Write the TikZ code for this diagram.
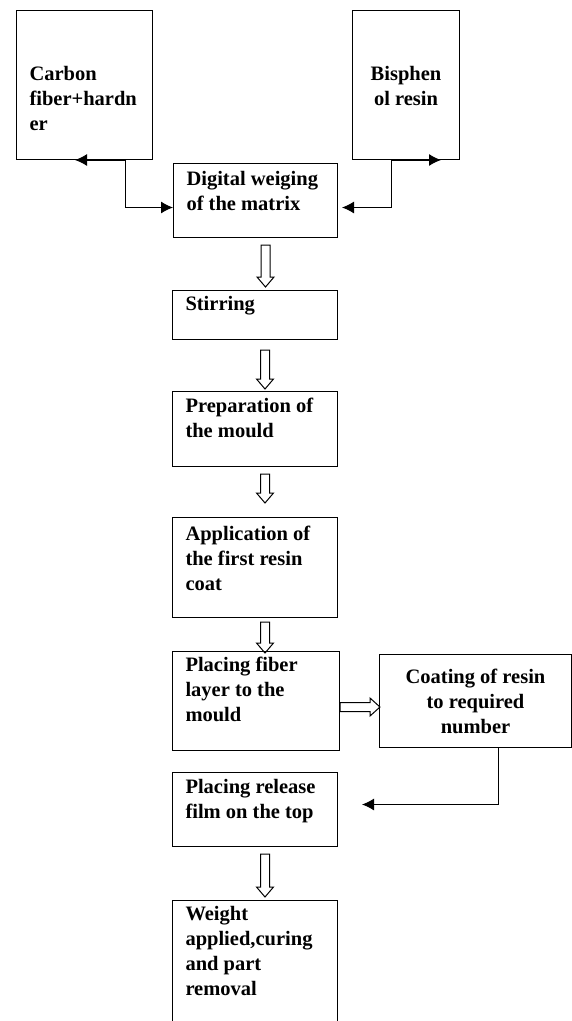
\documentclass[tikz,border=0pt]{standalone}
\usepackage{fontspec}
\setmainfont{Liberation Serif}
\usetikzlibrary{arrows.meta,calc}

\newcommand{\lefttext}[4]{\parbox[t][#2pt][t]{#1pt}{\raggedright\leftskip=13pt\rule{0pt}{#3pt}#4}}
\newcommand{\midtext}[4]{\parbox[t][#2pt][t]{#1pt}{\centering\rule{0pt}{#3pt}#4}}

\begin{document}
\begin{tikzpicture}[x=1pt, y=-1pt, line width=1pt,
    every node/.style={draw, inner sep=0pt, anchor=north west, font=\bfseries\fontsize{20.5}{25}\selectfont},
    hollowdown/.style={to path={let \p1=(\tikztostart), \p2=(\tikztotarget) in
        (\x1-4.5pt,\y1) -- (\x1-4.5pt,\y2+10pt) -- (\x1-8.5pt,\y2+10pt) -- (\x1,\y2)
        -- (\x1+8.5pt,\y2+10pt) -- (\x1+4.5pt,\y2+10pt) -- (\x1+4.5pt,\y1) -- cycle}},
    hollowright/.style={to path={let \p1=(\tikztostart), \p2=(\tikztotarget) in
        (\x1,\y1+4.5pt) -- (\x2-10pt,\y1+4.5pt) -- (\x2-10pt,\y1+9pt) -- (\x2,\y1)
        -- (\x2-10pt,\y1-9pt) -- (\x2-10pt,\y1-4.5pt) -- (\x1,\y1-4.5pt) -- cycle}},
    tip/.style={-{Latex[length=12pt, width=12pt]}}]

\useasboundingbox (0,0) rectangle (572,1021);

% inputs
\node (carb) at (16,10) {\lefttext{136}{149}{70}{Carbon\\fiber+hardn\\er}};
\node (bis) at (352,10) {\midtext{107}{149}{70}{Bisphen\\ol resin}};

% main steps
\node (dig) at (173,163) {\lefttext{164}{74}{22}{Digital weiging\\of the matrix}};
\node (stir) at (172,290) {\lefttext{165}{49}{20}{Stirring}};
\node (prep) at (172,391) {\lefttext{165}{75}{21}{Preparation of\\the mould}};
\node (app) at (172,517) {\lefttext{165}{100}{23}{Application of\\the first resin\\coat}};
\node (fib) at (172,651) {\lefttext{167}{99}{20}{Placing fiber\\layer to the\\mould}};
\node (coat) at (379,654) {\midtext{192}{93}{29}{Coating of resin\\to required\\number}};
\node (rel) at (172,772) {\lefttext{165}{74}{21}{Placing release\\film on the top}};
\node (wgt) at (172,900) {\lefttext{165}{140}{20}{Weight\\applied,curing\\and part\\removal}};

% free ends
\coordinate (ctip) at ($(carb.south west)+(59,0)$);
\coordinate (btip) at ($(bis.south west)+(89,0)$);
\coordinate (rtip) at ($(rel.east)+(24,-5)$);

% connectors
\draw[tip] ($(carb.south east)+(-28,0)$) -- (ctip);
\draw[tip] ($(carb.south east)+(-28,0)$) |- ($(dig.west)+(0,7)$);
\draw[tip] ($(bis.south west)+(39,0)$) -- (btip);
\draw[tip] ($(bis.south west)+(39,0)$) |- ($(dig.east)+(4,7)$);
\draw[tip] ($(coat.south west)+(119,0)$) |- (rtip);

\draw[hollowdown] ($(dig.south)+(10,7)$) to ($(stir.north)+(10,-3)$);
\draw[hollowdown] ($(stir.south)+(10,10)$) to ($(prep.north)+(10,-2)$);
\draw[hollowdown] ($(prep.south)+(10,7)$) to ($(app.north)+(10,-14)$);
\draw[hollowdown] ($(app.south)+(10,4)$) to ($(fib.north)+(9,2)$);
\draw[hollowright] ($(fib.east)+(0,6)$) to ($(coat.west)+(1,6)$);
\draw[hollowdown] ($(rel.south)+(10,7)$) to ($(wgt.north)+(10,-3)$);

\end{tikzpicture}
\end{document}
